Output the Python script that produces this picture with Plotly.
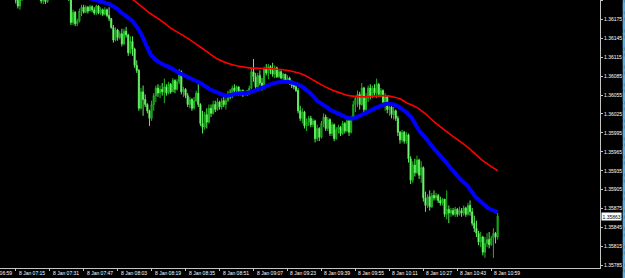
import pandas as pd
import plotly.graph_objects as go

# ---------------- data (EURUSD M1, 8 Jan) ----------------
start_time = "2014-01-08 07:08"

open_ = [1.36240,1.36245,1.36250,1.36240,1.36232,1.36225,1.36218,1.36212,1.36205,1.36196,
         1.36206,1.36218,1.36228,1.36236,1.36242,1.36238,1.36232,1.36226,1.36218,1.36210,
         1.36204,1.36208,1.36203,1.36214,1.36224,1.36230,1.36236,1.36232,1.36226,1.36222,
         1.36218,1.36214,1.36212,1.36208,1.36170,1.36186,1.36168,1.36172,1.36188,1.36194,
         1.36186,1.36194,1.36188,1.36195,1.36190,1.36185,1.36196,1.36185,1.36190,1.36183,
         1.36190,1.36181,1.36176,1.36162,1.36142,1.36158,1.36146,1.36152,1.36136,1.36156,
         1.36150,1.36122,1.36140,1.36128,1.36102,1.36094,1.36034,1.36060,1.36048,1.36040,
         1.36030,1.36018,1.36040,1.36054,1.36066,1.36058,1.36064,1.36060,1.36068,1.36058,
         1.36072,1.36060,1.36078,1.36064,1.36076,1.36092,1.36060,1.36064,1.36054,1.36040,
         1.36048,1.36034,1.36046,1.36058,1.36040,1.36010,1.36004,1.36024,1.36012,1.36034,
         1.36026,1.36040,1.36032,1.36044,1.36036,1.36046,1.36040,1.36046,1.36058,1.36052,
         1.36066,1.36062,1.36068,1.36058,1.36062,1.36056,1.36060,1.36057,1.36066,1.36092,
         1.36084,1.36068,1.36086,1.36074,1.36066,1.36096,1.36090,1.36100,1.36094,1.36088,
         1.36098,1.36084,1.36092,1.36082,1.36088,1.36076,1.36082,1.36074,1.36070,1.36068,
         1.36062,1.36030,1.36018,1.36028,1.36006,1.36012,1.36018,1.36008,1.36014,1.35986,
         1.36002,1.35988,1.36010,1.36020,1.36002,1.36016,1.35994,1.36008,1.35986,1.36000,
         1.36004,1.35994,1.36010,1.35998,1.36014,1.35996,1.36018,1.36040,1.36050,1.36056,
         1.36040,1.36066,1.36032,1.36050,1.36066,1.36054,1.36066,1.36058,1.36072,1.36056,
         1.36062,1.36044,1.36052,1.36032,1.36036,1.36024,1.36030,1.36018,1.35996,1.35984,
         1.35996,1.35982,1.35992,1.35954,1.35920,1.35944,1.35932,1.35952,1.35928,1.35940,
         1.35892,1.35880,1.35894,1.35878,1.35896,1.35892,1.35896,1.35888,1.35884,1.35890,
         1.35866,1.35874,1.35868,1.35872,1.35866,1.35874,1.35866,1.35872,1.35868,1.35876,
         1.35866,1.35880,1.35870,1.35852,1.35844,1.35836,1.35822,1.35830,1.35806,1.35820,
         1.35826,1.35818,1.35828,1.35836,1.35830]

high = [1.36252,1.36258,1.36255,1.36246,1.36240,1.36230,1.36226,1.36220,1.36212,1.36210,
        1.36222,1.36232,1.36240,1.36248,1.36250,1.36246,1.36240,1.36232,1.36224,1.36216,
        1.36212,1.36214,1.36218,1.36228,1.36236,1.36242,1.36244,1.36238,1.36234,1.36230,
        1.36226,1.36222,1.36220,1.36212,1.36190,1.36188,1.36176,1.36192,1.36198,1.36198,
        1.36197,1.36196,1.36198,1.36197,1.36194,1.36198,1.36197,1.36194,1.36192,1.36194,
        1.36192,1.36194,1.36177,1.36166,1.36162,1.36160,1.36156,1.36160,1.36160,1.36163,
        1.36152,1.36148,1.36148,1.36130,1.36110,1.36096,1.36066,1.36070,1.36056,1.36042,
        1.36032,1.36046,1.36058,1.36070,1.36072,1.36070,1.36074,1.36081,1.36072,1.36076,
        1.36074,1.36082,1.36080,1.36080,1.36096,1.36094,1.36068,1.36066,1.36058,1.36052,
        1.36050,1.36052,1.36062,1.36072,1.36042,1.36030,1.36028,1.36034,1.36040,1.36040,
        1.36046,1.36046,1.36050,1.36046,1.36050,1.36052,1.36050,1.36062,1.36064,1.36070,
        1.36072,1.36070,1.36068,1.36064,1.36064,1.36062,1.36063,1.36070,1.36098,1.36112,
        1.36090,1.36090,1.36094,1.36082,1.36100,1.36104,1.36104,1.36102,1.36106,1.36102,
        1.36100,1.36096,1.36094,1.36090,1.36088,1.36086,1.36084,1.36078,1.36076,1.36074,
        1.36066,1.36038,1.36034,1.36030,1.36018,1.36022,1.36022,1.36018,1.36016,1.36008,
        1.36004,1.36014,1.36026,1.36024,1.36020,1.36018,1.36012,1.36010,1.36004,1.36008,
        1.36006,1.36014,1.36012,1.36018,1.36020,1.36022,1.36046,1.36054,1.36062,1.36060,
        1.36074,1.36068,1.36058,1.36070,1.36072,1.36070,1.36072,1.36081,1.36074,1.36066,
        1.36064,1.36058,1.36054,1.36040,1.36038,1.36036,1.36032,1.36022,1.35998,1.36000,
        1.35998,1.35996,1.35994,1.35958,1.35950,1.35954,1.35959,1.35954,1.35950,1.35942,
        1.35902,1.35898,1.35904,1.35900,1.35904,1.35900,1.35898,1.35894,1.35892,1.35890,
        1.35904,1.35880,1.35876,1.35876,1.35878,1.35876,1.35878,1.35876,1.35880,1.35878,
        1.35884,1.35888,1.35876,1.35864,1.35856,1.35840,1.35838,1.35832,1.35830,1.35836,
        1.35838,1.35832,1.35844,1.35838,1.35868]

low = [1.36232,1.36238,1.36236,1.36228,1.36220,1.36212,1.36208,1.36200,1.36192,1.36190,
       1.36204,1.36214,1.36222,1.36230,1.36234,1.36228,1.36222,1.36214,1.36206,1.36200,
       1.36199,1.36199,1.36201,1.36210,1.36218,1.36224,1.36226,1.36220,1.36216,1.36212,
       1.36210,1.36206,1.36204,1.36166,1.36166,1.36164,1.36164,1.36170,1.36180,1.36184,
       1.36185,1.36184,1.36188,1.36186,1.36182,1.36182,1.36183,1.36182,1.36180,1.36181,
       1.36178,1.36172,1.36160,1.36138,1.36140,1.36141,1.36143,1.36132,1.36134,1.36146,
       1.36117,1.36120,1.36117,1.36098,1.36090,1.36030,1.36032,1.36022,1.36036,1.36026,
       1.36006,1.36014,1.36030,1.36044,1.36052,1.36050,1.36054,1.36042,1.36054,1.36056,
       1.36057,1.36060,1.36058,1.36062,1.36072,1.36056,1.36052,1.36050,1.36036,1.36034,
       1.36030,1.36032,1.36044,1.36036,1.36006,1.35994,1.36000,1.36002,1.36010,1.36020,
       1.36024,1.36028,1.36030,1.36032,1.36032,1.36036,1.36032,1.36044,1.36048,1.36050,
       1.36058,1.36056,1.36054,1.36054,1.36052,1.36054,1.36054,1.36055,1.36064,1.36076,
       1.36062,1.36064,1.36070,1.36062,1.36064,1.36086,1.36080,1.36088,1.36084,1.36082,
       1.36082,1.36082,1.36080,1.36078,1.36074,1.36074,1.36071,1.36066,1.36064,1.36060,
       1.36026,1.36014,1.36010,1.36002,1.35998,1.36006,1.36004,1.36004,1.35980,1.35982,
       1.35982,1.35986,1.36004,1.35998,1.35998,1.35990,1.35990,1.35982,1.35984,1.35994,
       1.35990,1.35992,1.35994,1.35996,1.35990,1.35994,1.36016,1.36028,1.36036,1.36032,
       1.36038,1.36026,1.36030,1.36044,1.36048,1.36050,1.36054,1.36050,1.36052,1.36052,
       1.36038,1.36030,1.36026,1.36022,1.36018,1.36016,1.36014,1.35990,1.35978,1.35980,
       1.35978,1.35978,1.35948,1.35914,1.35916,1.35926,1.35930,1.35922,1.35916,1.35886,
       1.35870,1.35876,1.35872,1.35876,1.35888,1.35888,1.35884,1.35880,1.35880,1.35862,
       1.35858,1.35852,1.35862,1.35864,1.35862,1.35862,1.35864,1.35862,1.35864,1.35862,
       1.35864,1.35864,1.35848,1.35838,1.35830,1.35817,1.35814,1.35801,1.35797,1.35814,
       1.35812,1.35816,1.35797,1.35820,1.35826]

close_ = [1.36245,1.36250,1.36240,1.36232,1.36225,1.36218,1.36212,1.36205,1.36196,1.36206,
          1.36218,1.36228,1.36236,1.36242,1.36238,1.36232,1.36226,1.36218,1.36210,1.36204,
          1.36208,1.36203,1.36214,1.36224,1.36230,1.36236,1.36232,1.36226,1.36222,1.36218,
          1.36214,1.36212,1.36208,1.36170,1.36186,1.36168,1.36172,1.36188,1.36194,1.36186,
          1.36194,1.36188,1.36195,1.36190,1.36185,1.36196,1.36185,1.36190,1.36183,1.36190,
          1.36181,1.36176,1.36162,1.36142,1.36158,1.36146,1.36152,1.36136,1.36156,1.36150,
          1.36122,1.36140,1.36128,1.36102,1.36094,1.36034,1.36060,1.36048,1.36040,1.36030,
          1.36018,1.36040,1.36054,1.36066,1.36058,1.36064,1.36060,1.36068,1.36058,1.36072,
          1.36060,1.36078,1.36064,1.36076,1.36092,1.36060,1.36064,1.36054,1.36040,1.36048,
          1.36034,1.36046,1.36058,1.36040,1.36010,1.36004,1.36024,1.36012,1.36034,1.36026,
          1.36040,1.36032,1.36044,1.36036,1.36046,1.36040,1.36046,1.36058,1.36052,1.36066,
          1.36062,1.36068,1.36058,1.36062,1.36056,1.36060,1.36057,1.36066,1.36092,1.36084,
          1.36068,1.36086,1.36074,1.36066,1.36096,1.36090,1.36100,1.36094,1.36088,1.36098,
          1.36084,1.36092,1.36082,1.36088,1.36076,1.36082,1.36074,1.36070,1.36068,1.36062,
          1.36030,1.36018,1.36028,1.36006,1.36012,1.36018,1.36008,1.36014,1.35986,1.36002,
          1.35988,1.36010,1.36020,1.36002,1.36016,1.35994,1.36008,1.35986,1.36000,1.36004,
          1.35994,1.36010,1.35998,1.36014,1.35996,1.36018,1.36040,1.36050,1.36056,1.36040,
          1.36066,1.36032,1.36050,1.36066,1.36054,1.36066,1.36058,1.36072,1.36056,1.36062,
          1.36044,1.36052,1.36032,1.36036,1.36024,1.36030,1.36018,1.35996,1.35984,1.35996,
          1.35982,1.35992,1.35954,1.35920,1.35944,1.35932,1.35952,1.35928,1.35940,1.35892,
          1.35880,1.35894,1.35878,1.35896,1.35892,1.35896,1.35888,1.35884,1.35890,1.35866,
          1.35874,1.35868,1.35872,1.35866,1.35874,1.35866,1.35872,1.35868,1.35876,1.35866,
          1.35880,1.35870,1.35852,1.35844,1.35836,1.35822,1.35830,1.35806,1.35820,1.35826,
          1.35818,1.35828,1.35836,1.35830,1.35863]

# fast moving average (blue)
blue_times = ["07:08","07:26","07:41","07:54","07:59","08:03","08:05","08:07","08:10","08:14",
              "08:17","08:19","08:23","08:28","08:32","08:37","08:42","08:46","08:50","08:54",
              "08:59","09:05","09:10","09:16","09:21","09:26","09:29","09:34","09:37","09:41",
              "09:44","09:48","09:51","09:54","09:57","10:00","10:05","10:10","10:13","10:16",
              "10:21","10:25","10:29","10:32","10:35","10:40","10:44","10:48","10:51","10:55",
              "10:58","11:02"]
blue_vals = [1.36232,1.36226,1.36217,1.36204,1.36199,1.36191,1.36185,1.36180,1.36172,1.36152,
             1.36130,1.36117,1.36106,1.36098,1.36090,1.36082,1.36074,1.36065,1.36059,1.36054,
             1.36057,1.36059,1.36065,1.36073,1.36076,1.36074,1.36070,1.36057,1.36046,1.36037,
             1.36030,1.36024,1.36019,1.36018,1.36022,1.36027,1.36035,1.36041,1.36040,1.36035,
             1.36021,1.35999,1.35983,1.35970,1.35959,1.35939,1.35923,1.35910,1.35896,1.35883,
             1.35875,1.35869]

# slow moving average (red)
red_times = ["07:55","08:11","08:18","08:23","08:28","08:34","08:42","08:50","08:57","09:05",
             "09:13","09:21","09:29","09:34","09:38","09:44","09:49","09:52","10:00","10:08",
             "10:13","10:16","10:19","10:24","10:28","10:32","10:40","10:48","10:55","11:02"]
red_vals = [1.36244,1.36204,1.36185,1.36174,1.36161,1.36149,1.36131,1.36112,1.36103,1.36098,
            1.36097,1.36095,1.36089,1.36081,1.36073,1.36063,1.36057,1.36054,1.36052,1.36054,
            1.36052,1.36049,1.36043,1.36035,1.36025,1.36013,1.35992,1.35972,1.35951,1.35935]

bid_level = 1.35863
dashed_level = 1.35847

price_ticks = [1.35785,1.35815,1.35845,1.35875,1.35905,1.35935,1.35965,1.35995,
               1.36025,1.36055,1.36085,1.36115,1.36145,1.36175,1.36205]
time_ticks = ["07:15","07:31","07:47","08:03","08:19","08:35","08:51","09:07",
              "09:23","09:39","09:55","10:11","10:27","10:43","10:59"]
time_tick_labels = ["8 Jan " + t for t in time_ticks]
cut_label = "8 Jan 06:59"

# ---------------- figure ----------------
day = "2014-01-08 "
times = pd.date_range(start_time, periods=len(close_), freq="min")

FONT = "Liberation Sans"
AXIS_COL = "#C4C4C4"

fig = go.Figure()
fig.add_trace(go.Candlestick(
    x=times, open=open_, high=high, low=low, close=close_,
    increasing=dict(line=dict(color="#1FB81F", width=1), fillcolor="#0B6E0B"),
    decreasing=dict(line=dict(color="#5CF05C", width=1), fillcolor="#D2FFD2"),
    whiskerwidth=0, showlegend=False, hoverinfo="skip",
))
fig.add_trace(go.Scatter(
    x=[day + t for t in red_times], y=red_vals, mode="lines",
    line=dict(color="#FF0000", width=1.6, shape="spline", smoothing=0.6),
    showlegend=False, hoverinfo="skip",
))
fig.add_trace(go.Scatter(
    x=[day + t for t in blue_times], y=blue_vals, mode="lines",
    line=dict(color="#0000FF", width=4, shape="spline", smoothing=0.6),
    showlegend=False, hoverinfo="skip",
))

# horizontal levels
fig.add_hline(y=bid_level, line=dict(color="#8A8AA0", width=1))
fig.add_hline(y=dashed_level, line=dict(color="#1FA01F", width=1, dash="dashdot"))

annotations = []
for t, lab in zip(time_ticks, time_tick_labels):
    annotations.append(dict(
        x=day + t, xref="x", y=0, yref="paper", text=lab, showarrow=False,
        xanchor="left", yanchor="middle", xshift=1, yshift=-5,
        font=dict(family=FONT, size=5, color="#FFFFFF"),
    ))
annotations.append(dict(
    x=-16.5 / 600, xref="paper", y=0, yref="paper", text=cut_label, showarrow=False,
    xanchor="left", yanchor="middle", yshift=-5,
    font=dict(family=FONT, size=5, color="#FFFFFF"),
))
annotations.append(dict(
    x=1, xref="paper", y=bid_level, yref="y", text=f"{bid_level:.5f}", showarrow=False,
    xanchor="left", yanchor="middle", xshift=1,
    bgcolor="#FFFFFF", borderpad=0.5,
    font=dict(family=FONT, size=5, color="#000000"),
))

fig.update_layout(
    width=625, height=278,
    margin=dict(l=0, r=25, t=0, b=10),
    paper_bgcolor="#000000", plot_bgcolor="#000000",
    showlegend=False,
    annotations=annotations,
    shapes=[dict(type="line", xref="paper", yref="paper", x0=1.0397, x1=1.0397,
                 y0=-0.05, y1=1.01, line=dict(color="#5AB4E6", width=2))],
    xaxis=dict(
        type="date", rangeslider=dict(visible=False),
        range=[day + "07:07:36", day + "11:50:12"],
        showgrid=False, zeroline=False,
        showline=True, linecolor=AXIS_COL, linewidth=1,
        ticks="outside", ticklen=2, tickcolor=AXIS_COL,
        tickvals=[day + t for t in time_ticks], showticklabels=False,
        fixedrange=True,
    ),
    yaxis=dict(
        side="right", range=[1.35781, 1.362055],
        showgrid=False, zeroline=False,
        showline=True, linecolor=AXIS_COL, linewidth=1,
        ticks="outside", ticklen=2, tickcolor=AXIS_COL,
        tickvals=price_ticks, ticktext=[f"{v:.5f}" for v in price_ticks],
        tickfont=dict(family=FONT, size=5, color="#FFFFFF"),
        fixedrange=True,
    ),
)

fig.write_html("out.html")
